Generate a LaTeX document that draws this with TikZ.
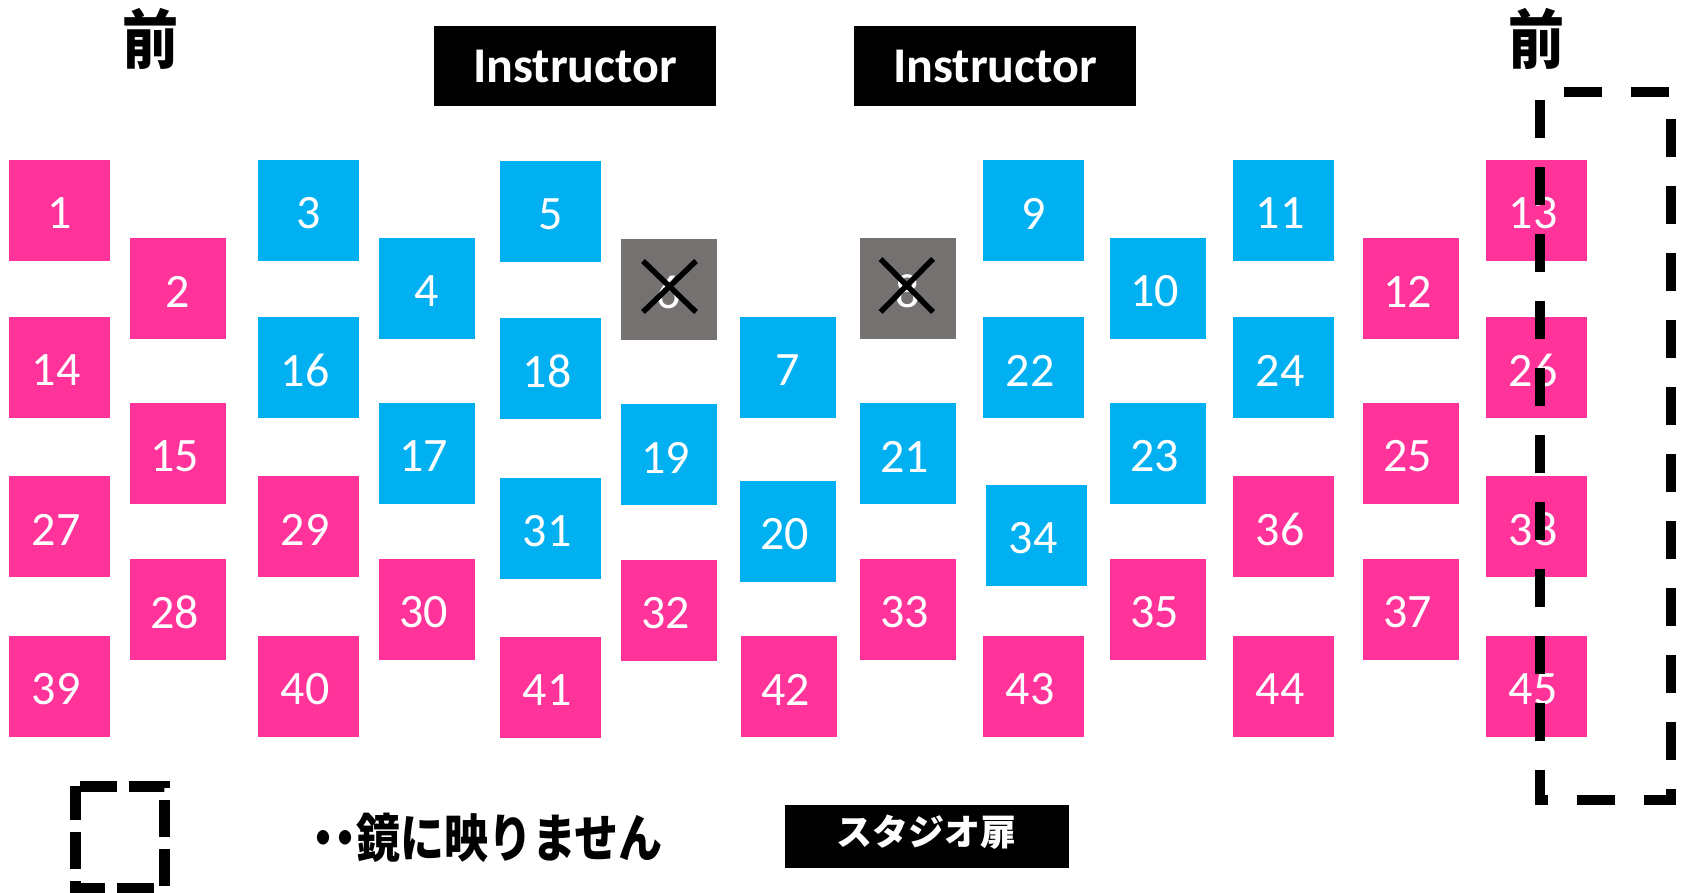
\documentclass[tikz,border=0pt]{standalone}
\usepackage{fontspec}
\setmainfont{Carlito}
\newfontfamily\jp{Noto Sans CJK JP}
\definecolor{seatpink}{RGB}{255,51,153}
\definecolor{seatblue}{RGB}{0,176,240}
\definecolor{seatgray}{RGB}{118,113,113}
\tikzset{
  seat/.style={rectangle, inner sep=0pt, outer sep=0pt, draw=none},
  num/.style={text=white, inner sep=0pt, font=\fontsize{48}{48}\selectfont},
  blk/.style={fill=black, inner sep=0pt, outer sep=0pt},
  jptext/.style={inner sep=0pt, font=\jp\bfseries},
  xmark/.style={line width=5.5pt, black},
  bigdash/.style={line width=10pt, dash pattern=on 38pt off 29pt, dash phase=43pt},
  smalldash/.style={line width=11pt, dash pattern=on 37pt off 12pt, dash phase=44pt},
}
\newcommand\seatbox[8]{%
  \node[seat, fill=#6, minimum width={(#4-#2)*1pt}, minimum height={(#5-#3)*1pt}] (s#1) at ({(#2+#4)/2},{(#3+#5)/2}) {};
  \node[num, xshift=#8pt, yshift=-3pt] (l#1) at (s#1.center) {#7};}
\begin{document}
\begin{tikzpicture}[x=1pt, y=-1pt]
\useasboundingbox (0,0) rectangle (1685,893);
\fill[white] (0,0) rectangle (1685,893);
% front labels
\node[jptext, font=\jp\bfseries\fontsize{56}{56}\selectfont] (front1) at (150,38.5) {\scalebox{1}[1.15]{前}};
\node[jptext, font=\jp\bfseries\fontsize{56}{56}\selectfont] (front2) at (1536.5,38.5) {\scalebox{1}[1.15]{前}};
% instructors
\node[blk, minimum width=282pt, minimum height=80pt, text=white, font=\bfseries\fontsize{50}{50}\selectfont] (ins1) at (575,66) {\raisebox{-1pt}{Instructor}};
\node[blk, minimum width=282pt, minimum height=80pt, text=white, font=\bfseries\fontsize{50}{50}\selectfont] (ins2) at (995,66) {\raisebox{-1pt}{Instructor}};
% seats
\seatbox{1}{9}{160}{110}{261}{seatpink}{1}{0}
\seatbox{2}{130}{238}{226}{339}{seatpink}{2}{0}
\seatbox{3}{258}{160}{359}{261}{seatblue}{3}{0}
\seatbox{4}{379}{238}{475}{339}{seatblue}{4}{0}
\seatbox{5}{500}{161}{601}{262}{seatblue}{5}{0}
\seatbox{6}{621}{239}{717}{340}{seatgray}{6}{0}
\seatbox{7}{740}{317}{836}{418}{seatblue}{7}{0}
\seatbox{8}{860}{238}{956}{339}{seatgray}{8}{0}
\seatbox{9}{983}{160}{1084}{261}{seatblue}{9}{0}
\seatbox{10}{1110}{238}{1206}{339}{seatblue}{10}{-3.5}
\seatbox{11}{1233}{160}{1334}{261}{seatblue}{11}{-3.5}
\seatbox{12}{1363}{238}{1459}{339}{seatpink}{12}{-3.5}
\seatbox{13}{1486}{160}{1587}{261}{seatpink}{13}{-3.5}
\seatbox{14}{9}{317}{110}{418}{seatpink}{14}{-3.5}
\seatbox{15}{130}{403}{226}{504}{seatpink}{15}{-3.5}
\seatbox{16}{258}{317}{359}{418}{seatblue}{16}{-3.5}
\seatbox{17}{379}{403}{475}{504}{seatblue}{17}{-3.5}
\seatbox{18}{500}{318}{601}{419}{seatblue}{18}{-3.5}
\seatbox{19}{621}{404}{717}{505}{seatblue}{19}{-3.5}
\seatbox{20}{740}{481}{836}{582}{seatblue}{20}{-3.5}
\seatbox{21}{860}{403}{956}{504}{seatblue}{21}{-3.5}
\seatbox{22}{983}{317}{1084}{418}{seatblue}{22}{-3.5}
\seatbox{23}{1110}{403}{1206}{504}{seatblue}{23}{-3.5}
\seatbox{24}{1233}{317}{1334}{418}{seatblue}{24}{-3.5}
\seatbox{25}{1363}{403}{1459}{504}{seatpink}{25}{-3.5}
\seatbox{26}{1486}{317}{1587}{418}{seatpink}{26}{-3.5}
\seatbox{27}{9}{476}{110}{577}{seatpink}{27}{-3.5}
\seatbox{28}{130}{559}{226}{660}{seatpink}{28}{-3.5}
\seatbox{29}{258}{476}{359}{577}{seatpink}{29}{-3.5}
\seatbox{30}{379}{559}{475}{660}{seatpink}{30}{-3.5}
\seatbox{31}{500}{478}{601}{579}{seatblue}{31}{-3.5}
\seatbox{32}{621}{560}{717}{661}{seatpink}{32}{-3.5}
\seatbox{33}{860}{559}{956}{660}{seatpink}{33}{-3.5}
\seatbox{34}{986}{485}{1087}{586}{seatblue}{34}{-3.5}
\seatbox{35}{1110}{559}{1206}{660}{seatpink}{35}{-3.5}
\seatbox{36}{1233}{476}{1334}{577}{seatpink}{36}{-3.5}
\seatbox{37}{1363}{559}{1459}{660}{seatpink}{37}{-3.5}
\seatbox{38}{1486}{476}{1587}{577}{seatpink}{38}{-3.5}
\seatbox{39}{9}{636}{110}{737}{seatpink}{39}{-3.5}
\seatbox{40}{258}{636}{359}{737}{seatpink}{40}{-3.5}
\seatbox{41}{500}{637}{601}{738}{seatpink}{41}{-3.5}
\seatbox{42}{741}{636}{837}{737}{seatpink}{42}{-3.5}
\seatbox{43}{983}{636}{1084}{737}{seatpink}{43}{-3.5}
\seatbox{44}{1233}{636}{1334}{737}{seatpink}{44}{-3.5}
\seatbox{45}{1486}{636}{1587}{737}{seatpink}{45}{-3.5}
% crosses on closed seats
\draw[xmark] ([shift={(-26,-28.5)}]s6.center) -- ([shift={(27,22.5)}]s6.center);
\draw[xmark] ([shift={(-26,22.5)}]s6.center) -- ([shift={(27,-28.5)}]s6.center);
\draw[xmark] ([shift={(-27.5,-29.5)}]s8.center) -- ([shift={(25,23.5)}]s8.center);
\draw[xmark] ([shift={(-27.5,23.5)}]s8.center) -- ([shift={(25,-29.5)}]s8.center);
% mirror-invisible zone
\draw[bigdash] (1540,92) -- (1671,92) -- (1671,800) -- (1540,800) -- cycle;
% legend
\draw[smalldash] (75,786) -- (164,786) -- (164,888) -- (75,888) -- cycle;
\node[jptext, anchor=west, font=\jp\bfseries\fontsize{44}{44}\selectfont] (legend) at (312,838) {\scalebox{1}[1.18]{{\addfontfeature{RawFeature=+palt}・・}鏡に映りません}};
% studio door
\node[blk, minimum width=284pt, minimum height=63pt] (door) at (927,836.5) {};
\node[jptext, text=white, font=\jp\bfseries\fontsize{36}{36}\selectfont] (doortext) at (926,832.5) {スタジオ扉};
\end{tikzpicture}
\end{document}
